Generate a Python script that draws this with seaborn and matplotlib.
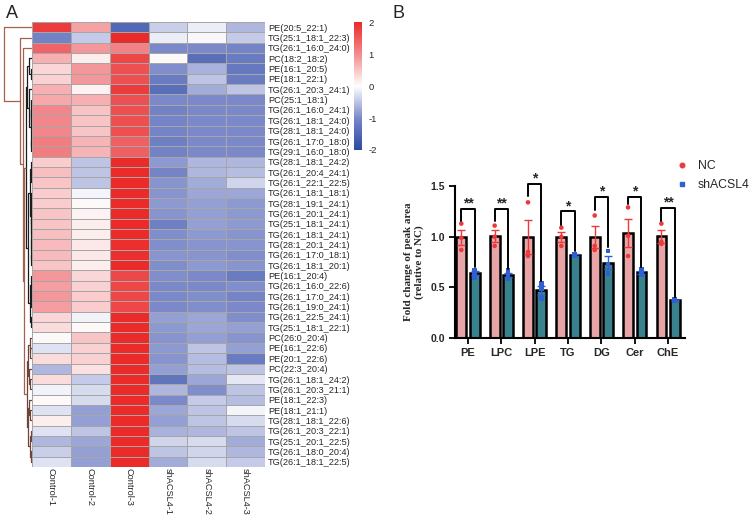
import numpy as np
import pandas as pd
import matplotlib
matplotlib.use("Agg")
import matplotlib.pyplot as plt
import seaborn as sns
from matplotlib.colors import LinearSegmentedColormap
from matplotlib.lines import Line2D

# ---------------- heatmap data (z-scores) ----------------
species = [
    "PE(20:5_22:1)", "TG(25:1_18:1_22:3)", "TG(26:1_16:0_24:0)", "PC(18:2_18:2)",
    "PE(16:1_20:5)", "PE(18:1_22:1)", "TG(26:1_20:3_24:1)", "PC(25:1_18:1)",
    "TG(26:1_16:0_24:1)", "TG(26:1_18:1_24:0)", "TG(28:1_18:1_24:0)", "TG(26:1_17:0_18:0)",
    "TG(29:1_16:0_18:0)", "TG(28:1_18:1_24:2)", "TG(26:1_20:4_24:1)", "TG(26:1_22:1_22:5)",
    "TG(26:1_18:1_18:1)", "TG(28:1_19:1_24:1)", "TG(26:1_20:1_24:1)", "TG(25:1_18:1_24:1)",
    "TG(26:1_18:1_24:1)", "TG(28:1_20:1_24:1)", "TG(26:1_17:0_18:1)", "TG(26:1_18:1_20:1)",
    "PE(16:1_20:4)", "TG(26:1_16:0_22:6)", "TG(26:1_17:0_24:1)", "TG(26:1_19:0_24:1)",
    "TG(26:1_22:5_24:1)", "TG(25:1_18:1_22:1)", "PC(26:0_20:4)", "PE(16:1_22:6)",
    "PE(20:1_22:6)", "PC(22:3_20:4)", "TG(26:1_18:1_24:2)", "TG(26:1_20:3_21:1)",
    "PE(18:1_22:3)", "PE(18:1_21:1)", "TG(28:1_18:1_22:6)", "TG(26:1_20:3_22:1)",
    "TG(25:1_20:1_22:5)", "TG(26:1_18:0_20:4)", "TG(26:1_18:1_22:5)",
]
samples = ["Control-1", "Control-2", "Control-3", "shACSL4-1", "shACSL4-2", "shACSL4-3"]

control1 = [1.8, -1.1, 1.4, 0.7, 0.35, 0.4, 0.7, 0.75, 1.05, 1.05, 1.05, 1.15, 1.15,
            0.45, 0.55, 0.5, 0.45, 0.45, 0.5, 0.5, 0.55, 0.6, 0.6, 0.5, 0.9, 0.85,
            0.9, 0.85, 0.35, 0.3, 0.05, -0.25, 0.3, -0.6, 0.3, -0.1, 0.05, -0.25,
            0.15, -0.25, -0.6, -0.4, -0.25]
control2 = [0.8, -0.45, 0.9, 0.15, 0.9, 0.9, 0.12, 0.7, 0.5, 0.5, 0.5, 0.65, 0.65,
            -0.5, -0.5, -0.5, -0.08, 0.05, 0.1, 0.15, 0.15, 0.2, 0.2, 0.15, 0.35, 0.4,
            0.45, 0.45, -0.1, 0.05, 0.5, 0.4, 0.4, 0.25, -0.45, -0.3, -0.3, -0.8,
            -0.8, -0.5, -0.75, -0.8, -0.8]
control3 = [-1.5, 2.0, 1.1, 1.7, 1.6, 1.6, 1.8, 1.6, 1.6, 1.6, 1.6, 1.45, 1.45,
            2.0, 2.0, 2.0, 2.0, 2.0, 2.0, 2.0, 2.0, 1.95, 1.95, 2.0, 1.7, 1.7,
            1.7, 1.7, 2.0, 2.0, 2.0, 2.0, 2.0, 2.0, 2.0, 2.0, 2.0, 2.0,
            2.0, 2.0, 2.0, 2.0, 2.0]
sh1 = [-0.4, -0.15, -1.0, 0.05, -0.95, -1.2, -1.4, -1.0, -1.1, -1.05, -1.05, -1.15, -1.1,
       -0.85, -1.05, -0.9, -0.9, -0.85, -0.9, -1.15, -0.95, -0.95, -0.9, -0.95, -0.95, -1.0,
       -1.0, -1.0, -0.8, -0.85, -0.9, -0.85, -0.9, -0.8, -1.3, -0.6, -1.0, -0.75,
       -0.8, -0.65, -0.35, -0.5, -0.7]
sh2 = [-0.15, -0.05, -1.0, -1.4, -0.65, -0.5, -0.7, -1.0, -1.0, -1.0, -1.0, -1.0, -1.0,
       -0.6, -0.6, -0.7, -0.75, -0.8, -0.8, -0.8, -0.85, -0.9, -0.9, -0.85, -1.0, -1.0,
       -0.95, -0.95, -0.75, -0.75, -0.8, -0.5, -0.55, -0.55, -0.75, -0.95, -0.45, -0.5,
       -0.5, -0.6, -0.3, -0.35, -0.3]
sh3 = [-0.6, -0.45, -1.05, -1.2, -1.25, -1.2, -0.5, -1.0, -1.0, -1.0, -1.0, -1.0, -1.0,
       -0.6, -0.55, -0.35, -0.75, -0.85, -0.85, -0.85, -0.9, -0.9, -0.95, -0.9, -1.2, -0.95,
       -1.05, -1.0, -0.95, -0.8, -0.9, -0.8, -1.2, -0.5, -0.2, -0.5, -0.55, -0.08,
       -0.3, -0.5, -0.7, -0.6, -0.45]

# row dendrogram: (height, left, right), leaves are row numbers
upper = (2.0,
         (1.6, (0.9, 3, (0.5, 4, 5)),
               (1.0, 6, (0.5, (0.3, 7, (0.2, 8, (0.15, 9, 10))), (0.25, 11, 12)))),
         (1.3, (0.8, (0.45, 13, (0.3, 14, 15)),
                     (0.5, (0.25, 16, 17),
                           (0.35, (0.2, 18, 19), (0.25, (0.15, 20, 21), (0.2, 22, 23))))),
               (0.7, (0.5, 24, (0.3, 25, (0.2, 26, 27))), (0.3, 28, 29))))
lower = (1.8,
         (1.3, (0.8, 30, (0.6, 31, 32)), (1.0, 33, (0.7, 34, 35))),
         (1.4, (0.9, 36, (0.6, 37, 38)), (0.8, (0.5, 39, 40), (0.4, 41, 42))))
tree = (9.5, 0, (4.0, 1, (3.0, 2, (2.6, upper, lower))))

# ---------------- bar chart data ----------------
lipids = ["PE", "LPC", "LPE", "TG", "DG", "Cer", "ChE"]
groups = ["NC", "shACSL4"]
nc_values = [[1.13, 0.99, 0.87], [1.11, 1.00, 0.91], [1.34, 0.85, 0.81], [1.09, 1.00, 0.91],
             [1.21, 0.91, 0.87], [1.29, 1.01, 0.81], [1.13, 0.95, 0.93]]
sh_values = [[0.67, 0.65, 0.60], [0.67, 0.61, 0.59], [0.54, 0.49, 0.39], [0.83, 0.82, 0.81],
             [0.86, 0.73, 0.64], [0.68, 0.64, 0.63], [0.38, 0.37, 0.37]]
stars = ["**", "**", "*", "*", "*", "*", "**"]
bracket_top = [1.27, 1.27, 1.52, 1.25, 1.39, 1.39, 1.28]
bracket_left = [1.16, 1.16, 1.40, 1.12, 1.26, 1.32, 1.16]
bracket_right = [0.70, 0.68, 0.56, 0.86, 0.90, 0.70, 0.41]

rows = []
for lip, a, b in zip(lipids, nc_values, sh_values):
    rows += [(lip, "NC", v) for v in a]
    rows += [(lip, "shACSL4", v) for v in b]
df = pd.DataFrame(rows, columns=["lipid", "group", "value"])

bar_colors = {"NC": "#f39a9d", "shACSL4": "#2b8c9b"}
dot_colors = {"NC": "#ec3a3c", "shACSL4": "#2f5fd0"}

sns.set_theme(style="white")
plt.rcParams["font.family"] = ["Liberation Sans", "DejaVu Sans"]
plt.rcParams["axes.unicode_minus"] = False

fig = plt.figure(figsize=(7.52, 5.17), dpi=100)
ax_dend = fig.add_axes([0.0, 0.0967, 0.0426, 0.8607])
ax_hm = fig.add_axes([0.0426, 0.0967, 0.3098, 0.8607])
cax = fig.add_axes([0.471, 0.710, 0.010, 0.247])
ax = fig.add_axes([0.605, 0.346, 0.306, 0.294])

# ---------------- panel A ----------------
hm = pd.DataFrame(dict(zip(samples, [control1, control2, control3, sh1, sh2, sh3])), index=species)
cmap = LinearSegmentedColormap.from_list(
    "bwr_pheat", ["#2a4ba3", "#7a88c9", "#ffffff", "#f38c90", "#eb2a2a"])
sns.heatmap(hm, ax=ax_hm, cmap=cmap, vmin=-2, vmax=2, linewidths=0.6, linecolor="#a6a6a6",
            cbar_ax=cax, xticklabels=samples, yticklabels=species)
ax_hm.yaxis.tick_right()
ax_hm.tick_params(axis="y", length=0, pad=2, labelsize=6.6, labelrotation=0)
ax_hm.tick_params(axis="x", length=0, pad=1, labelsize=6.6, labelrotation=270)
for t in ax_hm.get_xticklabels():
    t.set_va("top")
ax_hm.set_xlabel("")
ax_hm.set_ylabel("")

cbar = ax_hm.collections[0].colorbar
cbar.outline.set_visible(False)
cbar.set_ticks([-2, -1, 0, 1, 2])
cbar.ax.tick_params(length=0, labelsize=6.8, pad=5)


def draw_link(node, color):
    if isinstance(node, int):
        return node + 0.5, 0.0
    if node is upper:
        color = "#1c1c1c"
    elif node is lower:
        color = "#6e4438"
    h, left, right = node
    yl, hl = draw_link(left, color)
    yr, hr = draw_link(right, color)
    ax_dend.plot([hl, h, h, hr], [yl, yl, yr, yr], color=color, lw=0.9, solid_capstyle="butt")
    return (yl + yr) / 2, h


draw_link(tree, "#a5604e")
ax_dend.set_ylim(len(species), 0)
ax_dend.set_xlim(10.9, 0)
ax_dend.axis("off")

# ---------------- panel B ----------------
sns.barplot(data=df, x="lipid", y="value", hue="group", order=lipids, hue_order=groups,
            palette=bar_colors, errorbar=None, width=0.8, gap=0.27, edgecolor="black",
            linewidth=1.8, ax=ax, legend=False)
for grp, mk in zip(groups, ["o", "s"]):
    sns.stripplot(data=df[df["group"] == grp], x="lipid", y="value", hue="group",
                  order=lipids, hue_order=groups, palette=dot_colors, dodge=True,
                  jitter=False, marker=mk, size=3.3, linewidth=0, ax=ax, legend=False,
                  zorder=5)

stats = df.groupby(["lipid", "group"])["value"].agg(["mean", "sem"])
centers = {}
for cont, grp in zip(ax.containers, groups):
    for bar, lip in zip(cont, lipids):
        xc = bar.get_x() + bar.get_width() / 2
        centers[(lip, grp)] = xc
        m, s = stats.loc[(lip, grp)]
        ax.errorbar(xc, m, yerr=s, color=dot_colors[grp], elinewidth=1.0, capsize=2.6,
                    capthick=1.0, zorder=4)

for i, lip in enumerate(lipids):
    x0 = centers[(lip, "NC")]
    x1 = centers[(lip, "shACSL4")]
    ax.plot([x0, x0, x1, x1], [bracket_left[i], bracket_top[i], bracket_top[i], bracket_right[i]],
            color="black", lw=1.4, clip_on=False, zorder=6)
    ax.text((x0 + x1) / 2, bracket_top[i] - 0.015, stars[i], ha="center", va="bottom",
            fontsize=10, fontweight="bold", clip_on=False)

ax.set_xlim(-0.39, 6.51)
ax.set_ylim(0, 1.5)
ax.set_yticks([0, 0.5, 1.0, 1.5])
ax.set_yticklabels(["0.0", "0.5", "1.0", "1.5"])
ax.set_xlabel("")
ax.set_ylabel("Fold change of peak area\n(relative to NC)", family="Liberation Serif",
              fontweight="bold", fontsize=8, linespacing=1.15, labelpad=5)
sns.despine(ax=ax)
for sp in ["left", "bottom"]:
    ax.spines[sp].set_linewidth(1.5)
    ax.spines[sp].set_color("black")
ax.tick_params(axis="both", length=4, width=1.3, color="black", bottom=True, left=True,
               direction="out", pad=3)
for t in ax.get_xticklabels():
    t.set_fontweight("bold")
    t.set_fontsize(8)
for t in ax.get_yticklabels():
    t.set_fontweight("bold")
    t.set_fontsize(7.5)

handles = [Line2D([], [], ls="", marker="o", color=dot_colors["NC"], markersize=3.3),
           Line2D([], [], ls="", marker="s", color=dot_colors["shACSL4"], markersize=3.3)]
fig.legend(handles, groups, loc="upper left", bbox_to_anchor=(0.884, 0.712), frameon=False,
           fontsize=8.8, handlelength=1.0, handletextpad=0.8, labelspacing=0.6)

fig.text(0.008, 0.99, "A", fontsize=13, va="top", ha="left")
fig.text(0.522, 0.99, "B", fontsize=13, va="top", ha="left")

fig.savefig("out.png", dpi=100)
